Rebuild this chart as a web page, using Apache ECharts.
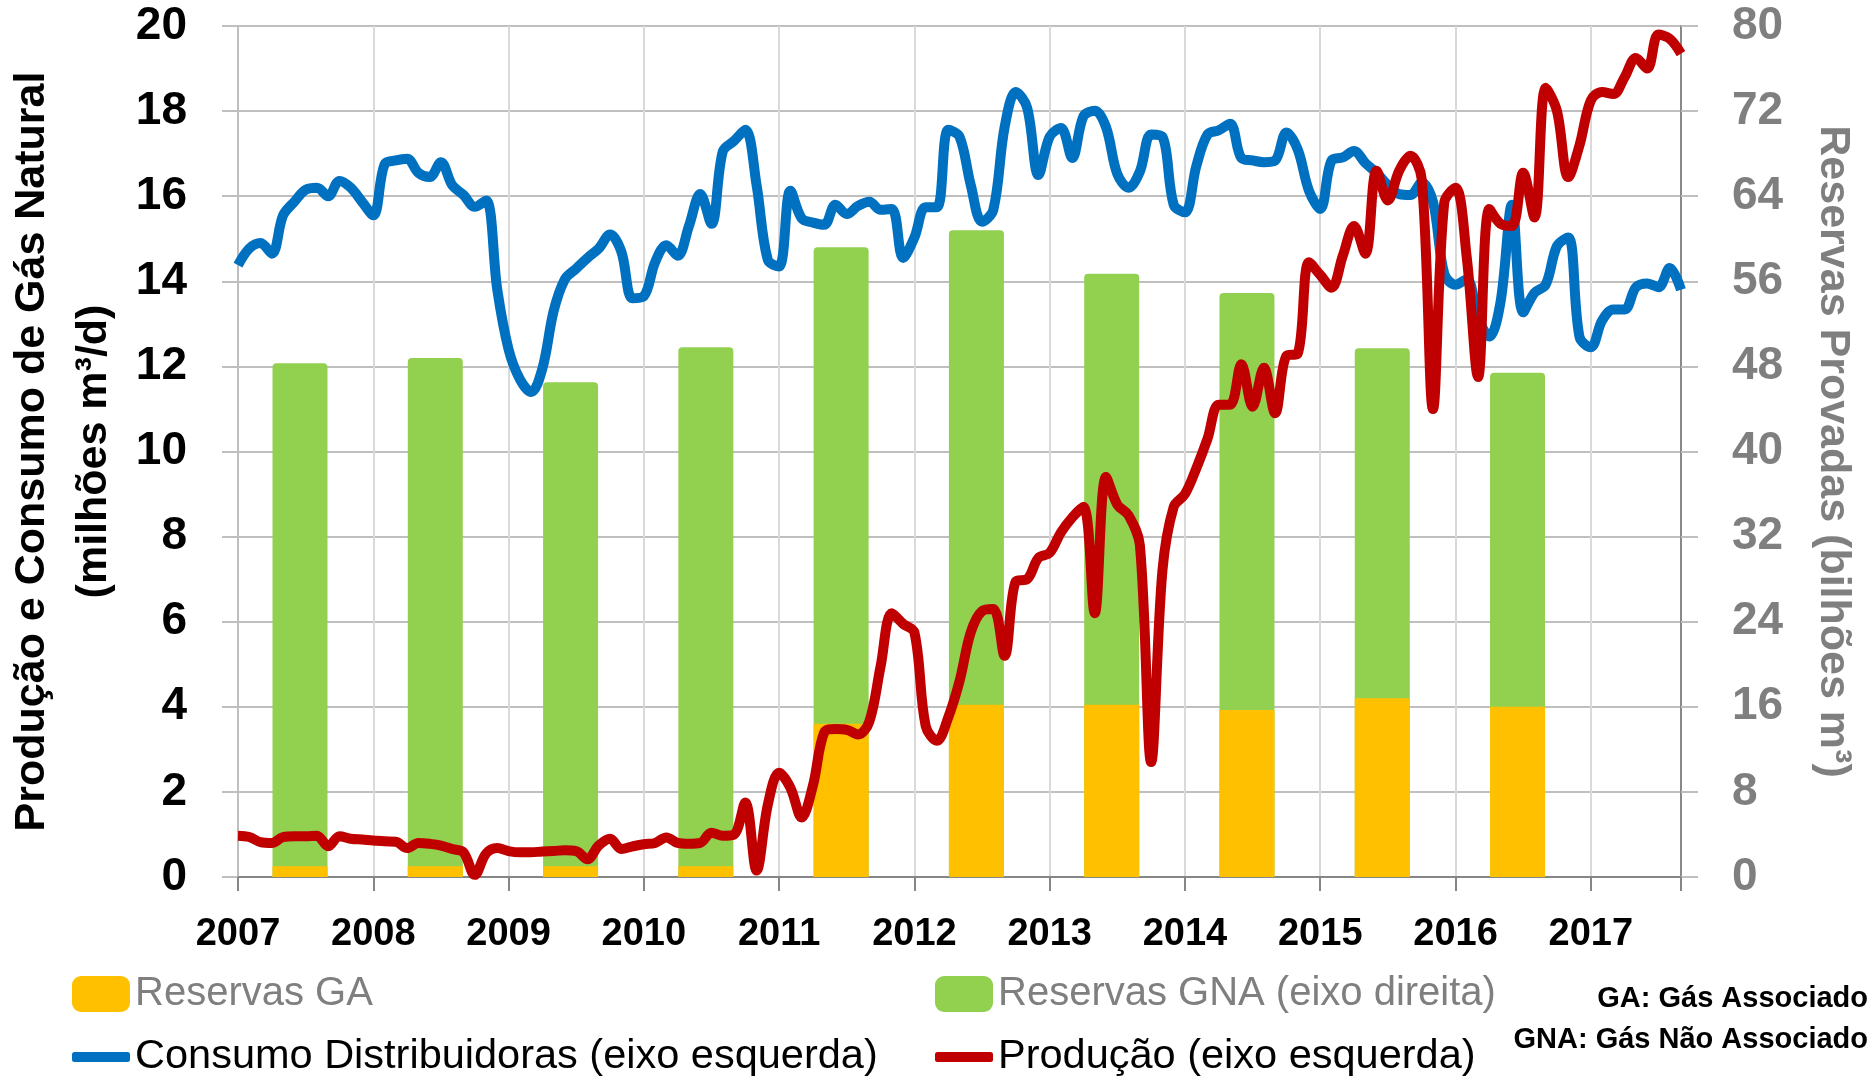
<!DOCTYPE html>
<html>
<head>
<meta charset="utf-8">
<script src="https://cdn.jsdelivr.net/npm/echarts@6/dist/echarts.min.js"></script>
<style>
    html, body { margin: 0; padding: 0; background: #fff; }
    #chart { width: 1875px; height: 1076px; }
</style>
</head>
<body>
<div id="chart"></div>
<script>
// série mensal, jan/2007 a set/2017
const startYear = 2007;

const consumo = [
    14.38, 14.77, 14.90, 14.65, 15.55, 15.87, 16.15, 16.20, 16.00, 16.36, 16.20, 15.87,
    15.55, 16.75, 16.84, 16.88, 16.55, 16.45, 16.80, 16.26, 16.03, 15.75, 15.90, 13.80,
    12.40, 11.70, 11.40, 11.95, 13.30, 14.05, 14.30, 14.55, 14.77, 15.10, 14.70, 13.60,
    13.65, 14.45, 14.85, 14.60, 15.30, 16.05, 15.35, 17.05, 17.30, 17.56, 16.26, 14.50,
    14.35, 16.13, 15.48, 15.38, 15.33, 15.80, 15.58, 15.77, 15.87, 15.68, 15.70, 14.55,
    15.03, 15.74, 15.74, 17.56, 17.40, 16.26, 15.40, 15.68, 17.62, 18.45, 18.08, 16.50,
    17.40, 17.60, 16.90, 17.88, 18.01, 17.62, 16.52, 16.20, 16.58, 17.45, 17.40, 15.80,
    15.62, 16.70, 17.45, 17.55, 17.70, 16.90, 16.84, 16.80, 16.84, 17.50, 17.10, 16.13,
    15.70, 16.84, 16.91, 17.06, 16.78, 16.55, 16.26, 16.05, 16.03, 16.32, 15.87, 14.18,
    13.92, 14.05, 13.14, 12.70, 13.53, 15.80, 13.27, 13.73, 13.92, 14.83, 15.03, 12.69,
    12.45, 13.08, 13.34, 13.34, 13.86, 13.95, 13.86, 14.31, 13.80
];

const producao = [
    0.97, 0.94, 0.82, 0.80, 0.94, 0.96, 0.96, 0.97, 0.72, 0.96, 0.90, 0.88,
    0.86, 0.84, 0.83, 0.68, 0.80, 0.78, 0.74, 0.66, 0.58, 0.05, 0.55, 0.68,
    0.61, 0.58, 0.58, 0.60, 0.61, 0.63, 0.61, 0.42, 0.74, 0.90, 0.66, 0.72,
    0.77, 0.80, 0.93, 0.80, 0.78, 0.80, 1.04, 0.97, 1.00, 1.75, 0.15, 1.70,
    2.45, 2.10, 1.40, 2.15, 3.40, 3.48, 3.46, 3.35, 3.65, 4.95, 6.20, 5.95,
    5.75, 3.55, 3.20, 3.75, 4.60, 5.75, 6.25, 6.30, 5.20, 6.95, 7.00, 7.50,
    7.62, 8.10, 8.45, 8.70, 6.20, 9.40, 8.75, 8.50, 7.80, 2.70, 7.20, 8.70,
    9.00, 9.60, 10.30, 11.10, 11.10, 12.05, 11.05, 11.97, 10.90, 12.25, 12.30, 14.45,
    14.15, 13.85, 14.60, 15.30, 14.65, 16.60, 15.90, 16.60, 16.95, 16.40, 11.00, 15.85,
    16.20, 14.55, 11.75, 15.70, 15.35, 15.30, 16.55, 15.50, 18.55, 18.00, 16.45, 17.20,
    18.25, 18.45, 18.40, 18.80, 19.25, 19.00, 19.80, 19.70, 19.35
];

// reservas provadas anuais (bilhões m3)
const barYears = [2007, 2008, 2009, 2010, 2011, 2012, 2013, 2014, 2015, 2016];
const reservasGA = [1.0, 1.0, 1.0, 1.0, 14.4, 16.2, 16.2, 15.7, 16.8, 16.0];
const reservasGNA = [47.3, 47.8, 45.5, 48.8, 44.8, 44.6, 40.5, 39.2, 32.9, 31.4];

const BAR_OFFSET = 5.5 / 12; // barras no meio do ano
const FONT = '"Liberation Sans", Arial, sans-serif';

const monthX = i => startYear + i / 12;
const lastX = monthX(consumo.length - 1);

// empilhamento feito à mão: o eixo x é de valor
const reservasTotal = reservasGA.map((v, i) => v + reservasGNA[i]);

const chart = echarts.init(document.getElementById('chart'));

chart.setOption({
    animation: false,
    backgroundColor: '#fff',
    grid: { left: 238, right: 194, top: 26, bottom: 199, containLabel: false, outerBoundsMode: 'none' },
    xAxis: {
        type: 'value',
        min: startYear,
        max: lastX,
        interval: 1,
        axisLine: { show: true, lineStyle: { color: '#868686', width: 2 } },
        axisTick: { show: true, length: 14, lineStyle: { color: '#868686', width: 2 } },
        splitLine: { show: true, lineStyle: { color: '#d9d9d9', width: 2 } },
        axisLabel: {
            margin: 39,
            color: '#000',
            fontFamily: FONT,
            fontWeight: 'bold',
            fontSize: 38,
            formatter: v => Math.abs(v - Math.round(v)) < 1e-6 ? String(Math.round(v)) : ''
        }
    },
    yAxis: [
        {
            type: 'value',
            min: 0,
            max: 20,
            interval: 2,
            name: 'Produção e Consumo de Gás Natural\n(milhões m³/d)',
            nameLocation: 'middle',
            nameRotate: 90,
            nameGap: 110,
            nameTextStyle: {
                color: '#000', fontFamily: FONT, fontWeight: 'bold', fontSize: 43, lineHeight: 62
            },
            axisLine: { show: true, lineStyle: { color: '#bfbfbf', width: 2 } },
            axisTick: { show: true, length: 16, lineStyle: { color: '#bfbfbf', width: 2 } },
            splitLine: { show: true, lineStyle: { color: '#bfbfbf', width: 2 } },
            axisLabel: {
                margin: 51, color: '#000', fontFamily: FONT, fontWeight: 'bold', fontSize: 46
            }
        },
        {
            type: 'value',
            min: 0,
            max: 80,
            interval: 8,
            position: 'right',
            name: 'Reservas Provadas (bilhões m³)',
            nameLocation: 'middle',
            nameRotate: -90,
            nameGap: 130,
            nameTextStyle: {
                color: '#7f7f7f', fontFamily: FONT, fontWeight: 'bold', fontSize: 43
            },
            axisLine: { show: true, lineStyle: { color: '#898989', width: 2 } },
            axisTick: { show: true, length: 17, lineStyle: { color: '#bfbfbf', width: 2 } },
            splitLine: { show: false },
            axisLabel: {
                margin: 51, color: '#7f7f7f', fontFamily: FONT, fontWeight: 'bold', fontSize: 46
            }
        }
    ],
    legend: [
        {
            left: 72, top: 974, padding: 0, selectedMode: false,
            itemWidth: 58, itemHeight: 36, icon: 'roundRect',
            data: ['Reservas GA'],
            textStyle: { color: '#7f7f7f', fontFamily: FONT, fontSize: 40 }
        },
        {
            left: 935, top: 974, padding: 0, selectedMode: false,
            itemWidth: 58, itemHeight: 36, icon: 'roundRect',
            data: ['Reservas GNA (eixo direita)'],
            textStyle: { color: '#7f7f7f', fontFamily: FONT, fontSize: 40 }
        },
        {
            left: 72, top: 1036, padding: 0, selectedMode: false,
            itemWidth: 58, itemHeight: 10, icon: 'roundRect',
            data: ['Consumo Distribuidoras (eixo esquerda)'],
            textStyle: { color: '#000', fontFamily: FONT, fontSize: 41.5 }
        },
        {
            left: 935, top: 1036, padding: 0, selectedMode: false,
            itemWidth: 58, itemHeight: 10, icon: 'roundRect',
            data: ['Produção (eixo esquerda)'],
            textStyle: { color: '#000', fontFamily: FONT, fontSize: 41.5 }
        }
    ],
    graphic: [
        {
            type: 'text', right: 7, top: 984,
            style: { text: 'GA: Gás Associado', font: 'bold 29px ' + FONT, fill: '#000' }
        },
        {
            type: 'text', right: 7, top: 1025,
            style: { text: 'GNA: Gás Não Associado', font: 'bold 29px ' + FONT, fill: '#000' }
        }
    ],
    series: [
        {
            name: 'Reservas GNA (eixo direita)',
            type: 'bar',
            yAxisIndex: 1,
            barWidth: 55,
            barGap: '-100%',
            itemStyle: { color: '#92d050', borderRadius: [4, 4, 0, 0] },
            data: barYears.map((y, i) => [y + BAR_OFFSET, reservasTotal[i]])
        },
        {
            name: 'Reservas GA',
            type: 'bar',
            yAxisIndex: 1,
            barWidth: 55,
            barGap: '-100%',
            itemStyle: { color: '#ffc000' },
            data: barYears.map((y, i) => [y + BAR_OFFSET, reservasGA[i]])
        },
        {
            name: 'Consumo Distribuidoras (eixo esquerda)',
            type: 'line',
            yAxisIndex: 0,
            smooth: 0.35,
            showSymbol: false,
            symbol: 'none',
            itemStyle: { color: '#0070c0' },
            lineStyle: { color: '#0070c0', width: 10 },
            data: consumo.map((v, i) => [monthX(i), v])
        },
        {
            name: 'Produção (eixo esquerda)',
            type: 'line',
            yAxisIndex: 0,
            smooth: 0.35,
            showSymbol: false,
            symbol: 'none',
            itemStyle: { color: '#c00000' },
            lineStyle: { color: '#c00000', width: 10 },
            data: producao.map((v, i) => [monthX(i), v])
        }
    ]
});
</script>
</body>
</html>
